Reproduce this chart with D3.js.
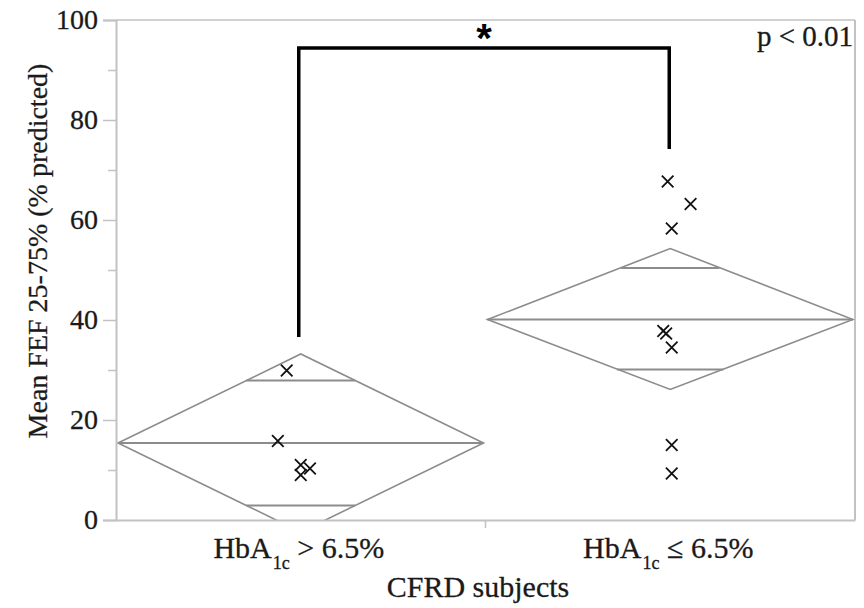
<!DOCTYPE html>
<html>
<head>
<meta charset="utf-8">
<script src="https://cdn.jsdelivr.net/npm/d3@7"></script>
<style>
  html, body { margin: 0; padding: 0; background: #fff; }
  svg { display: block; }
  text { font-family: "Liberation Serif", "Times New Roman", serif; fill: #1a1a1a; stroke: #1a1a1a; stroke-width: 0.3px; }
  text.star { font-family: "Liberation Sans", Arial, sans-serif; fill: #000; stroke: none; }
</style>
</head>
<body>
<svg id="chart" width="864" height="608"></svg>
<script>
// Groups of CFRD subjects split by HbA1c
const categories = ["HbA1c > 6.5%", "HbA1c ≤ 6.5%"];
const categoryLabelParts = [["HbA", "1c", " > 6.5%"], ["HbA", "1c", " \u2264 6.5%"]];

// Individual mean FEF 25-75% (% predicted) values per subject
const highHbA1cValues = [29.9, 15.8, 11.0, 10.3, 9.0];
const lowHbA1cValues  = [67.7, 63.2, 58.3, 37.8, 37.3, 34.5, 15.0, 9.3];
// horizontal spread of each marker, as a fraction of the group width
const highHbA1cJitter = [-0.038, -0.062, 0.0, 0.025, 0.0];
const lowHbA1cJitter  = [-0.007, 0.055, 0.004, -0.019, -0.011, 0.004, 0.004, 0.004];

// Means diamonds: group mean, 95% CI and overlap marks
const groupMeans   = [15.4, 40.1];
const ciLower      = [-2.4, 26.1];
const ciUpper      = [33.2, 54.3];
const overlapLower = [2.9, 30.1];
const overlapUpper = [27.9, 50.4];

// Axis ticks
const yMajorTicks = [0, 20, 40, 60, 80, 100];
const yMinorTicks = [10, 30, 50, 70, 90];

// Significance bracket between groups
const bracketTop = 94.4;
const bracketEnds = [36.6, 74.2];
const significanceMark = "*";
const pValueText = "p < 0.01";

const yLabel = "Mean FEF 25-75% (% predicted)";
const xLabel = "CFRD subjects";

const svg = d3.select("#chart");
const margin = { left: 116, top: 20, right: 9, bottom: 88 };
const W = 864, H = 608;
const x0 = margin.left, x1 = W - margin.right;
const y0 = H - margin.bottom, y1 = margin.top;

const x = d3.scaleBand().domain(categories).range([x0, x1]).padding(0);
const y = d3.scaleLinear().domain([0, 100]).range([y0, y1]);
const jitter = d3.scaleLinear().domain([-0.5, 0.5]).range([-x.bandwidth() / 2, x.bandwidth() / 2]);

const axisGrey = "#c2c2c2";
const diamondGrey = "#8c8c8c";

// clip for the plot region
svg.append("defs").append("clipPath").attr("id", "plotClip")
  .append("rect").attr("x", x0).attr("y", y1).attr("width", x1 - x0).attr("height", y0 - y1);

// frame: top and right borders
svg.append("line").attr("x1", x0).attr("x2", x1).attr("y1", y1).attr("y2", y1)
  .attr("stroke", axisGrey).attr("stroke-width", 1.5);
svg.append("line").attr("x1", x1).attr("x2", x1).attr("y1", y1).attr("y2", y0)
  .attr("stroke", axisGrey).attr("stroke-width", 2);

// diamonds
const plot = svg.append("g").attr("clip-path", "url(#plotClip)");
const inset = 2;
categories.forEach((c, i) => {
  const left = x(c) + inset, right = x(c) + x.bandwidth() - inset;
  const cx = x(c) + x.bandwidth() / 2;
  const half = (right - left) / 2;
  const m = groupMeans[i], ciHalf = (ciUpper[i] - ciLower[i]) / 2;
  const pts = [[left, y(m)], [cx, y(ciUpper[i])], [right, y(m)], [cx, y(ciLower[i])]];
  plot.append("path")
    .attr("d", d3.line()(pts) + "Z")
    .attr("fill", "none").attr("stroke", diamondGrey).attr("stroke-width", 1.6)
    .attr("stroke-linejoin", "miter");
  plot.append("line").attr("x1", left).attr("x2", right).attr("y1", y(m)).attr("y2", y(m))
    .attr("stroke", diamondGrey).attr("stroke-width", 1.8);
  [overlapLower[i], overlapUpper[i]].forEach(v => {
    const w = half * (1 - Math.abs(v - m) / ciHalf);
    plot.append("line").attr("x1", cx - w).attr("x2", cx + w).attr("y1", y(v)).attr("y2", y(v))
      .attr("stroke", diamondGrey).attr("stroke-width", 1.8);
  });
});

// axes
const yAxisG = svg.append("g").attr("transform", `translate(${x0},0)`);
yAxisG.call(d3.axisLeft(y).tickValues(yMinorTicks).tickSize(8).tickFormat(""));
yAxisG.call(g => g.selectAll(".domain").remove());
const yMajor = svg.append("g").attr("transform", `translate(${x0},0)`)
  .call(d3.axisLeft(y).tickValues(yMajorTicks).tickSize(13).tickPadding(5).tickFormat(d3.format("d")));
[yAxisG, yMajor].forEach(g => {
  g.selectAll(".tick line").attr("stroke", axisGrey).attr("stroke-width", 1.5);
  g.selectAll(".domain").attr("stroke", axisGrey).attr("stroke-width", 2);
});
yMajor.selectAll(".tick text").attr("font-size", 28);

const xAxisG = svg.append("g").attr("transform", `translate(0,${y0})`)
  .call(d3.axisBottom(x).tickSize(0).tickFormat(""));
xAxisG.select(".domain").attr("stroke", axisGrey).attr("stroke-width", 2);
// divider tick between groups
xAxisG.append("line")
  .attr("x1", x(categories[1])).attr("x2", x(categories[1]))
  .attr("y1", 0).attr("y2", 8).attr("stroke", axisGrey).attr("stroke-width", 1.5);
xAxisG.selectAll(".tick").each(function (d) {
  const i = categories.indexOf(d);
  const parts = categoryLabelParts[i];
  const t = d3.select(this).select("text")
    .attr("y", 38).attr("dy", null).attr("x", -2).attr("font-size", 30).text(null);
  t.append("tspan").text(parts[0]);
  t.append("tspan").attr("font-size", 18).attr("dy", 11).attr("dx", 1).text(parts[1]);
  t.append("tspan").attr("dy", -11).text(parts[2]);
});

// axis titles
svg.append("text")
  .attr("transform", `translate(47,251) rotate(-90)`)
  .attr("text-anchor", "middle").attr("font-size", 28).text(yLabel);
svg.append("text")
  .attr("x", 478).attr("y", 597)
  .attr("text-anchor", "middle").attr("font-size", 30).text(xLabel);

// subject markers
const groups = [
  { cat: categories[0], values: highHbA1cValues, jit: highHbA1cJitter },
  { cat: categories[1], values: lowHbA1cValues, jit: lowHbA1cJitter }
];
const s = 5.8;
groups.forEach(g => {
  const cx = x(g.cat) + x.bandwidth() / 2;
  svg.append("g").selectAll("path").data(g.values).join("path")
    .attr("d", (v, k) => {
      const px = cx + jitter(g.jit[k]), py = y(v);
      return `M${px - s},${py - s}L${px + s},${py + s}M${px - s},${py + s}L${px + s},${py - s}`;
    })
    .attr("stroke", "#111").attr("stroke-width", 1.8).attr("fill", "none");
});

// significance bracket
const bx0 = x(categories[0]) + x.bandwidth() / 2 - 2;
const bx1 = x(categories[1]) + x.bandwidth() / 2 - 1;
svg.append("path")
  .attr("d", `M${bx0},${y(bracketEnds[0])}L${bx0},${y(bracketTop)}L${bx1},${y(bracketTop)}L${bx1},${y(bracketEnds[1])}`)
  .attr("fill", "none").attr("stroke", "#000").attr("stroke-width", 3.5)
  .attr("stroke-linejoin", "miter");
svg.append("text").attr("class", "star")
  .attr("x", (bx0 + bx1) / 2).attr("y", 52)
  .attr("text-anchor", "middle").attr("font-size", 40).attr("font-weight", "bold")
  .text(significanceMark);
svg.append("text")
  .attr("x", x1 - 2).attr("y", 46)
  .attr("text-anchor", "end").attr("font-size", 29).text(pValueText);
</script>
</body>
</html>
